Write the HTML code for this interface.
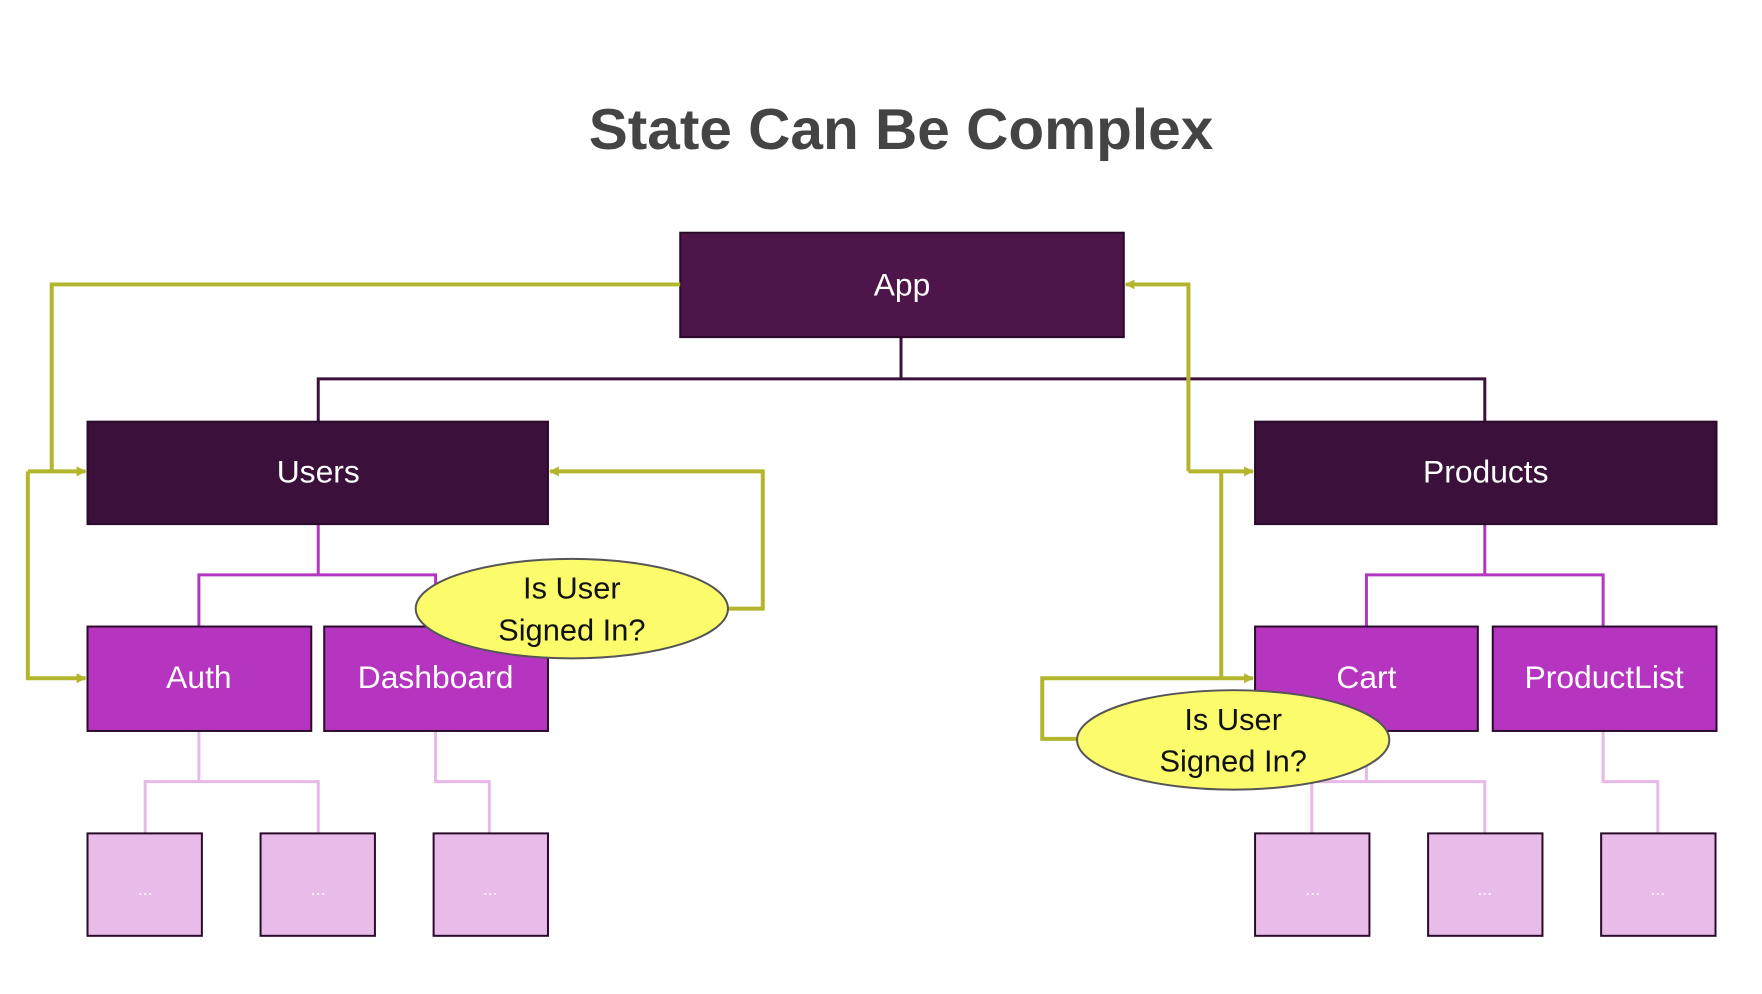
<!DOCTYPE html>
<html><head><meta charset="utf-8"><style>
html,body{margin:0;padding:0;background:#fff;}
svg{display:block;}
text{font-family:"Liberation Sans",sans-serif;}
</style></head><body>
<svg width="1762" height="994" viewBox="0 0 1762 994" xmlns="http://www.w3.org/2000/svg">
<defs>
<marker id="ar" markerWidth="10" markerHeight="10" refX="9" refY="5" orient="auto" markerUnits="userSpaceOnUse">
<path d="M0,0 L10,5 L0,10 z" fill="#b3b62c"/></marker>
</defs>
<g transform="scale(0.9945)">
<text x="906" y="150" text-anchor="middle" font-size="58" font-weight="bold" fill="#444" textLength="628" lengthAdjust="spacingAndGlyphs">State Can Be Complex</text>

<g fill="none" stroke="#3b113b" stroke-width="3">
<path d="M906 339 V381 M320 424 V381 H1493 V424"/>
</g>
<g fill="none" stroke="#b535c0" stroke-width="3">
<path d="M320 527 V578 M200 630 V578 H438 V630"/>
<path d="M1493 527 V578 M1374 630 V578 H1612 V630"/>
</g>
<g fill="none" stroke="#e8b8e8" stroke-width="3">
<path d="M200 735 V786 M146 838 V786 H320 V838 M438 735 V786 H492 V838"/>
<path d="M1374 735 V786 M1319 838 V786 H1493 V838 M1612 735 V786 H1667 V838"/>
</g>

<g stroke="#2a0a2a" stroke-width="2">
<rect x="684" y="234" width="446" height="105" fill="#4d1549"/>
<rect x="88" y="424" width="463" height="103" fill="#3b113b"/>
<rect x="1262" y="424" width="464" height="103" fill="#3b113b"/>
<rect x="88" y="630" width="225" height="105" fill="#b535c0"/>
<rect x="326" y="630" width="225" height="105" fill="#b535c0"/>
<rect x="1262" y="630" width="224" height="105" fill="#b535c0"/>
<rect x="1501" y="630" width="225" height="105" fill="#b535c0"/>
<rect x="88" y="838" width="115" height="103" fill="#e8bbe8"/>
<rect x="262" y="838" width="115" height="103" fill="#e8bbe8"/>
<rect x="436" y="838" width="115" height="103" fill="#e8bbe8"/>
<rect x="1262" y="838" width="115" height="103" fill="#e8bbe8"/>
<rect x="1436" y="838" width="115" height="103" fill="#e8bbe8"/>
<rect x="1610" y="838" width="115" height="103" fill="#e8bbe8"/>
</g>
<g fill="#fff" font-size="32" text-anchor="middle">
<text x="907" y="297">App</text>
<text x="320" y="485">Users</text>
<text x="1494" y="485">Products</text>
<text x="200" y="692">Auth</text>
<text x="438" y="692">Dashboard</text>
<text x="1374" y="692">Cart</text>
<text x="1613" y="692">ProductList</text>
</g>
<g fill="#fff" font-size="18" text-anchor="middle">
<text x="146" y="900">...</text><text x="320" y="900">...</text><text x="493" y="900">...</text>
<text x="1320" y="900">...</text><text x="1493" y="900">...</text><text x="1667" y="900">...</text>
</g>

<g fill="none" stroke="#b3b62c" stroke-width="4">
<path d="M684 286 H52 V474"/>
<path d="M28 474 H86" marker-end="url(#ar)"/>
<path d="M28 474 V682 H86" marker-end="url(#ar)"/>
<path d="M732 612 H767 V474 H553" marker-end="url(#ar)"/>
<path d="M1195 474 V286 H1132" marker-end="url(#ar)"/>
<path d="M1195 474 H1260" marker-end="url(#ar)"/>
<path d="M1228 474 V682"/>
<path d="M1084 743 H1048 V682 H1260" marker-end="url(#ar)"/>
</g>

<ellipse cx="575" cy="612" rx="157" ry="50" fill="#fbfb6b" stroke="#555" stroke-width="2"/>
<ellipse cx="1240" cy="744" rx="157" ry="50" fill="#fbfb6b" stroke="#555" stroke-width="2"/>
<g fill="#111" font-size="31" text-anchor="middle">
<text x="575" y="602">Is User</text>
<text x="575" y="644">Signed In?</text>
<text x="1240" y="734">Is User</text>
<text x="1240" y="776">Signed In?</text>
</g>
</g>
</svg>
</body></html>
